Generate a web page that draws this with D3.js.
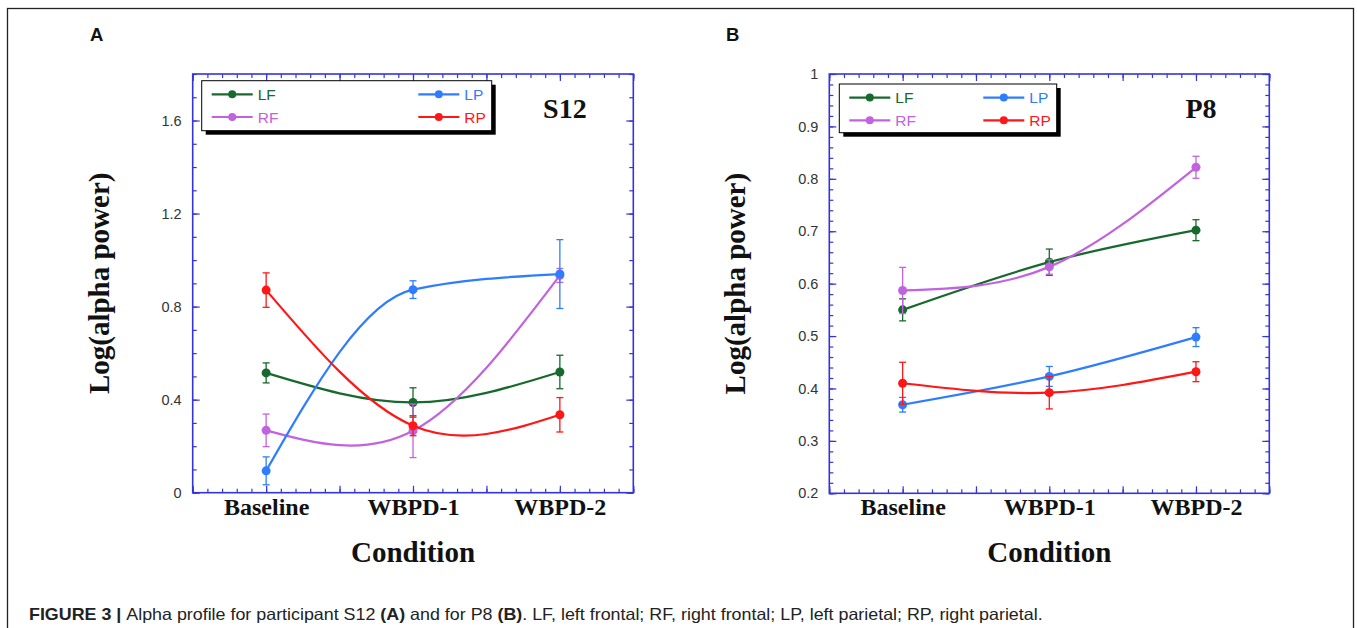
<!DOCTYPE html>
<html>
<head>
<meta charset="utf-8">
<script src="https://cdn.jsdelivr.net/npm/d3@7"></script>
<style>
  body { margin: 0; background: #fff; }
  svg { display: block; }
</style>
</head>
<body>
<div class="chart"></div>
<script>
// categories on the x axis (positions 1, 2, 3)
var conditions = ["Baseline", "WBPD-1", "WBPD-2"];
var seriesNames = ["LF", "RF", "LP", "RP"];

// panel A, participant S12 : mean log(alpha power) and error bars
var s12LF = [0.515, 0.388, 0.519];
var s12LFErr = [0.043, 0.063, 0.072];
var s12RF = [0.268, 0.266, 0.934];
var s12RFErr = [0.070, 0.115, 0.030];
var s12LP = [0.094, 0.873, 0.940];
var s12LPErr = [0.060, 0.038, 0.148];
var s12RP = [0.871, 0.288, 0.335];
var s12RPErr = [0.074, 0.043, 0.074];

// panel B, participant P8
var p8LF = [0.550, 0.641, 0.702];
var p8LFErr = [0.021, 0.025, 0.020];
var p8RF = [0.587, 0.632, 0.822];
var p8RFErr = [0.044, 0.014, 0.021];
var p8LP = [0.369, 0.423, 0.498];
var p8LPErr = [0.014, 0.019, 0.018];
var p8RP = [0.410, 0.392, 0.432];
var p8RPErr = [0.040, 0.031, 0.019];

// y tick labels
var s12YTicks = [0, 0.4, 0.8, 1.2, 1.6];
var p8YTicks = [0.2, 0.3, 0.4, 0.5, 0.6, 0.7, 0.8, 0.9, 1];

var colors = { LF: "#17692d", RF: "#c163e0", LP: "#2f7dff", RP: "#ff1717" };
var axisBlue = "#3434dc";
var serif = "'Times New Roman', 'Liberation Serif', serif";
var sans = "Arial, 'Liberation Sans', sans-serif";

var svgWidth = 1357;
var svgHeight = 628;

var svg = d3.select(".chart")
  .append("svg")
  .attr("width", svgWidth)
  .attr("height", svgHeight);

svg.append("rect")
  .attr("width", svgWidth).attr("height", svgHeight)
  .attr("fill", "#fff");

// outer figure border
svg.append("rect")
  .attr("x", 7.5).attr("y", 8.5)
  .attr("width", 1346).attr("height", 660)
  .attr("fill", "none")
  .attr("stroke", "#222")
  .attr("stroke-width", 1.3);

var panels = [
  {
    letter: "A", letterX: 90, name: "S12",
    left: 192.7, right: 633.3, top: 74, bottom: 492.7,
    yDomain: [0, 1.8], yTicks: s12YTicks, yMinorStep: 0.1, yFormat: d3.format(".1~f"),
    yLabelX: 100,
    legend: { x: 201.7, y: 80.7, w: 290, h: 50, col2: 216.6 },
    series: [
      { key: "LF", values: s12LF, err: s12LFErr, curve: d3.curveNatural },
      { key: "RF", values: s12RF, err: s12RFErr, curve: d3.curveNatural },
      { key: "LP", values: s12LP, err: s12LPErr, curve: d3.curveMonotoneX },
      { key: "RP", values: s12RP, err: s12RPErr, curve: d3.curveNatural }
    ]
  },
  {
    letter: "B", letterX: 726, name: "P8",
    left: 829.3, right: 1269.3, top: 74, bottom: 493.3,
    yDomain: [0.2, 1], yTicks: p8YTicks, yMinorStep: 0.02, yFormat: d3.format(".1~f"),
    yLabelX: 736,
    legend: { x: 839.3, y: 84, w: 217.4, h: 48.7, col2: 144 },
    series: [
      { key: "LF", values: p8LF, err: p8LFErr, curve: d3.curveNatural },
      { key: "RF", values: p8RF, err: p8RFErr, curve: d3.curveNatural },
      { key: "LP", values: p8LP, err: p8LPErr, curve: d3.curveNatural },
      { key: "RP", values: p8RP, err: p8RPErr, curve: d3.curveNatural }
    ]
  }
];

function range(start, stop, step) {
  var out = [];
  var n = Math.round((stop - start) / step);
  for (var i = 0; i <= n; i++) out.push(+(start + i * step).toFixed(6));
  return out;
}

function drawPanel(p) {
  var width = p.right - p.left;
  var height = p.bottom - p.top;

  var g = svg.append("g")
    .attr("transform", `translate(${p.left}, ${p.top})`);

  var x = d3.scaleLinear().domain([0.5, 3.5]).range([0, width]);
  var y = d3.scaleLinear().domain(p.yDomain).range([height, 0]);

  var xMajor = range(0.5, 3.5, 0.5);
  var xMinor = range(0.5, 3.5, 0.1);
  var yMinor = range(p.yDomain[0], p.yDomain[1], p.yMinorStep);

  // inward ticks on all four sides
  function tickAxis(axisFn, scale, values, size, translate) {
    var a = g.append("g")
      .attr("transform", translate)
      .call(axisFn(scale).tickValues(values).tickSize(-size).tickFormat(""));
    a.select(".domain").remove();
    a.selectAll("line").attr("stroke", axisBlue).attr("stroke-width", 1.2);
    return a;
  }
  tickAxis(d3.axisBottom, x, xMinor, 4, `translate(0, ${height})`);
  tickAxis(d3.axisBottom, x, xMajor, 7, `translate(0, ${height})`);
  tickAxis(d3.axisTop, x, xMinor, 4, "translate(0, 0)");
  tickAxis(d3.axisTop, x, xMajor, 7, "translate(0, 0)");
  tickAxis(d3.axisLeft, y, yMinor, 4, "translate(0, 0)");
  tickAxis(d3.axisRight, y, yMinor, 4, `translate(${width}, 0)`);
  tickAxis(d3.axisRight, y, p.yTicks, 7, `translate(${width}, 0)`);

  var yAxis = g.append("g")
    .call(d3.axisLeft(y).tickValues(p.yTicks).tickSize(-7).tickPadding(11).tickFormat(p.yFormat));
  yAxis.select(".domain").remove();
  yAxis.selectAll("line").attr("stroke", axisBlue).attr("stroke-width", 1.2);
  yAxis.selectAll("text")
    .attr("font-family", sans)
    .attr("font-size", 14.5)
    .attr("fill", "#333");

  // category labels
  var xCat = g.append("g")
    .attr("transform", `translate(0, ${height})`)
    .call(d3.axisBottom(x).tickValues([1, 2, 3]).tickSize(0).tickPadding(5)
      .tickFormat(d => conditions[d - 1]));
  xCat.select(".domain").remove();
  xCat.selectAll("text")
    .attr("font-family", serif)
    .attr("font-weight", "bold")
    .attr("font-size", 24)
    .attr("fill", "#111");

  // frame
  g.append("rect")
    .attr("width", width).attr("height", height)
    .attr("fill", "none")
    .attr("stroke", axisBlue)
    .attr("stroke-width", 1.6);

  // series
  p.series.forEach(function(s) {
    var pts = s.values.map((v, i) => ({ x: i + 1, v: v, e: s.err[i] }));
    var col = colors[s.key];
    var line = d3.line().x(d => x(d.x)).y(d => y(d.v)).curve(s.curve);

    g.append("path")
      .datum(pts)
      .attr("d", line)
      .attr("fill", "none")
      .attr("stroke", col)
      .attr("stroke-width", 2.2);

    var eb = g.append("g").selectAll("g")
      .data(pts).enter().append("g")
      .attr("stroke", col).attr("stroke-width", 1.3);
    eb.append("line")
      .attr("x1", d => x(d.x)).attr("x2", d => x(d.x))
      .attr("y1", d => y(d.v - d.e)).attr("y2", d => y(d.v + d.e));
    eb.append("line")
      .attr("x1", d => x(d.x) - 3.5).attr("x2", d => x(d.x) + 3.5)
      .attr("y1", d => y(d.v + d.e)).attr("y2", d => y(d.v + d.e));
    eb.append("line")
      .attr("x1", d => x(d.x) - 3.5).attr("x2", d => x(d.x) + 3.5)
      .attr("y1", d => y(d.v - d.e)).attr("y2", d => y(d.v - d.e));

    g.append("g").selectAll("circle")
      .data(pts).enter().append("circle")
      .attr("cx", d => x(d.x))
      .attr("cy", d => y(d.v))
      .attr("r", 4.5)
      .attr("fill", col);
  });

  // legend with drop shadow
  var L = p.legend;
  svg.append("rect")
    .attr("x", L.x + 4).attr("y", L.y + 4)
    .attr("width", L.w).attr("height", L.h)
    .attr("fill", "#000");
  svg.append("rect")
    .attr("x", L.x).attr("y", L.y)
    .attr("width", L.w).attr("height", L.h)
    .attr("fill", "#fff")
    .attr("stroke", "#000").attr("stroke-width", 1);

  seriesNames.forEach(function(key, i) {
    var lx = L.x + (i < 2 ? 10 : L.col2);
    var ly = L.y + (i % 2 === 0 ? 13.6 : 36.3);
    var col = colors[key];
    svg.append("line")
      .attr("x1", lx).attr("x2", lx + 41)
      .attr("y1", ly).attr("y2", ly)
      .attr("stroke", col).attr("stroke-width", 2.2);
    svg.append("circle")
      .attr("cx", lx + 20.5).attr("cy", ly).attr("r", 4)
      .attr("fill", col);
    svg.append("text")
      .attr("x", lx + 46).attr("y", ly + 5.5)
      .attr("font-family", sans)
      .attr("font-size", 15.5)
      .attr("fill", col)
      .text(key);
  });

  // participant name
  svg.append("text")
    .attr("x", p.left + x(3) + 5).attr("y", 118)
    .attr("text-anchor", "middle")
    .attr("font-family", serif)
    .attr("font-weight", "bold")
    .attr("font-size", 28)
    .attr("fill", "#111")
    .text(p.name);

  // axis titles
  svg.append("text")
    .attr("transform", `translate(${p.yLabelX}, ${p.top + height / 2}) rotate(-90)`)
    .attr("dy", "0.32em")
    .attr("text-anchor", "middle")
    .attr("font-family", serif)
    .attr("font-weight", "bold")
    .attr("font-size", 29)
    .attr("fill", "#111")
    .text("Log(alpha power)");

  svg.append("text")
    .attr("x", p.left + width / 2).attr("y", 561.5)
    .attr("text-anchor", "middle")
    .attr("font-family", serif)
    .attr("font-weight", "bold")
    .attr("font-size", 29)
    .attr("fill", "#111")
    .text("Condition");

  // panel letter
  svg.append("text")
    .attr("x", p.letterX).attr("y", 41)
    .attr("font-family", sans)
    .attr("font-weight", "bold")
    .attr("font-size", 18.5)
    .attr("fill", "#111")
    .text(p.letter);
}

panels.forEach(drawPanel);

// caption
var caption = svg.append("text")
  .attr("x", 0).attr("y", 0)
  .attr("font-family", "'Liberation Sans Narrow', 'Arial Narrow', Arial, sans-serif")
  .attr("font-size", 16.5)
  .attr("fill", "#222")
  .attr("style", "white-space: pre");
var parts = [
  ["FIGURE 3 | ", true], ["Alpha profile for participant S12 ", false], ["(A)", true],
  [" and for P8 ", false], ["(B)", true],
  [". LF, left frontal; RF, right frontal; LP, left parietal; RP, right parietal.", false]
];
parts.forEach(function(pt) {
  caption.append("tspan")
    .attr("font-weight", pt[1] ? "bold" : "normal")
    .text(pt[0]);
});
var capW = caption.node().getComputedTextLength();
caption.attr("transform", `translate(29, 620) scale(${1014 / capW}, 1)`);
</script>
</body>
</html>
